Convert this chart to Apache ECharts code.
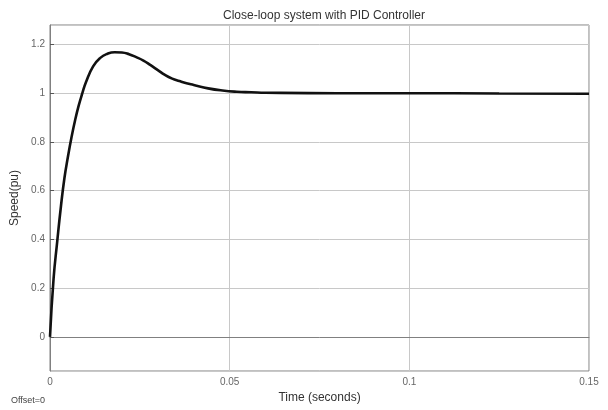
<!DOCTYPE html>
<html>
<head>
<meta charset="utf-8">
<script src="https://cdn.jsdelivr.net/npm/echarts@6/dist/echarts.min.js"></script>
<style>
  html, body { margin: 0; padding: 0; background: #fff; }
  #chart { width: 608px; height: 410px; }
</style>
</head>
<body>
<div id="chart"></div>
<script>
// step response
var timeS = [0, 0.001, 0.002, 0.003, 0.004, 0.005, 0.006, 0.007, 0.008, 0.009, 0.010,
	0.012, 0.014, 0.016, 0.018, 0.020, 0.022, 0.024, 0.026, 0.028, 0.030,
	0.032, 0.034, 0.036, 0.038, 0.040, 0.044, 0.048, 0.052, 0.056, 0.060,
	0.080, 0.100, 0.125, 0.150];
var speedPu = [0, 0.24, 0.39, 0.53, 0.65, 0.74, 0.82, 0.89, 0.95, 1.0, 1.045,
	1.11, 1.145, 1.162, 1.168, 1.167, 1.16, 1.148, 1.134, 1.115, 1.095,
	1.075, 1.06, 1.05, 1.041, 1.034, 1.02, 1.011, 1.006, 1.004, 1.002,
	1.0, 1.0, 0.999, 0.998];
var xTicks = [0, 0.05, 0.1, 0.15];

var fontName = 'Liberation Sans, Arial, sans-serif';

var points = [];
for (var i = 0; i < timeS.length; i++) {
	points.push([timeS[i], speedPu[i]]);
}

var myChart = echarts.init(document.getElementById('chart'));
var option = {
	backgroundColor: '#ffffff',
	animation: false,
	title: {
		text: 'Close-loop system with PID Controller',
		left: 319,
		textAlign: 'center',
		top: 5,
		textStyle: {
			fontFamily: fontName,
			fontSize: 12,
			fontWeight: 'normal',
			color: '#333'
		}
	},
	grid: {
		left: 50,
		right: 19,
		top: 25,
		bottom: 39,
		show: true,
		borderColor: '#808080',
		borderWidth: 1
	},
	xAxis: {
		type: 'value',
		min: 0,
		max: 0.15,
		interval: 0.05,
		name: 'Time (seconds)',
		nameLocation: 'middle',
		nameGap: 20,
		nameTextStyle: { fontFamily: fontName, fontSize: 12, color: '#333' },
		axisLine: { lineStyle: { color: '#808080' } },
		axisTick: { show: false },
		axisLabel: {
			fontFamily: fontName,
			fontSize: 10,
			color: '#666',
			margin: 6,
			formatter: function (v) {
				for (var k = 0; k < xTicks.length; k++) {
					if (Math.abs(v - xTicks[k]) < 1e-9) return String(xTicks[k]);
				}
				return '';
			}
		},
		splitLine: { show: true, lineStyle: { color: '#c8c8c8', width: 1 } }
	},
	yAxis: {
		type: 'value',
		min: -0.14,
		max: 1.28,
		splitNumber: 7,
		name: 'Speed(pu)',
		nameLocation: 'middle',
		nameGap: 22,
		nameTextStyle: { fontFamily: fontName, fontSize: 12, color: '#333' },
		axisLine: { show: true, lineStyle: { color: '#808080' } },
		axisTick: { show: true, inside: true, length: 4, lineStyle: { color: '#555' } },
		axisLabel: {
			fontFamily: fontName,
			fontSize: 10,
			color: '#666',
			margin: 5,
			showMinLabel: false,
			showMaxLabel: false
		},
		splitLine: { show: true, lineStyle: { color: '#c8c8c8', width: 1 } }
	},
	graphic: [{
		type: 'text',
		left: 11,
		top: 396,
		style: {
			text: 'Offset=0',
			fontFamily: fontName,
			fontSize: 9,
			fill: '#444'
		}
	}],
	series: [{
		type: 'line',
		data: points,
		smooth: 0.5,
		showSymbol: false,
		lineStyle: { color: '#111', width: 2.6 }
	}]
};
myChart.setOption(option);
</script>
</body>
</html>
